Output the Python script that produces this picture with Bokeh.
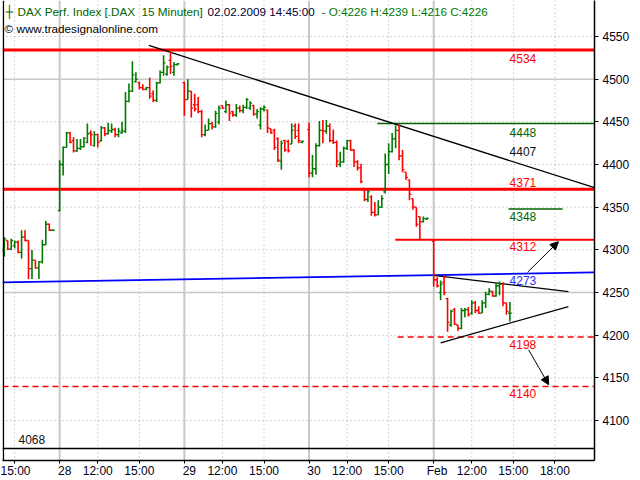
from bokeh.plotting import figure
from bokeh.models import Range1d, FixedTicker, Span, Label, Arrow, NormalHead, ColumnDataSource
from bokeh.embed import file_html
from bokeh.resources import INLINE

# ---------------- data ----------------
# 15-minute bars, 36 slots per session (09:15 ... 18:00)
slots_per_day = 36
day_first_slot = [19, 0, 0, 0, 0]          # Jan 27 (partial), Jan 28, Jan 29, Jan 30, Feb 2

jan27_open  = [4310, 4300, 4311, 4301, 4305, 4309, 4297, 4315, 4311, 4278, 4288, 4279, 4286, 4306, 4330, 4323]
jan27_high  = [4311, 4315, 4311, 4313, 4311, 4311, 4323, 4323, 4311, 4300, 4288, 4287, 4312, 4334, 4331, 4324]
jan27_low   = [4297, 4292, 4300, 4300, 4302, 4296, 4290, 4310, 4266, 4266, 4278, 4266, 4284, 4306, 4322, 4322]
jan27_close = [4299, 4313, 4301, 4311, 4309, 4297, 4315, 4311, 4278, 4288, 4279, 4286, 4306, 4330, 4323, 4323]

jan28_open  = [4346, 4400, 4420, 4437, 4428, 4416, 4419, 4421, 4426, 4437, 4422, 4435, 4428, 4443, 4436, 4439, 4441, 4435,
               4437, 4439, 4474, 4486, 4497, 4496, 4490, 4488, 4490, 4483, 4475, 4496, 4508, 4506, 4522, 4508, 4517]
jan28_high  = [4405, 4421, 4438, 4438, 4432, 4430, 4430, 4432, 4448, 4440, 4439, 4436, 4445, 4444, 4449, 4448, 4443, 4443,
               4450, 4485, 4495, 4521, 4508, 4497, 4494, 4491, 4502, 4487, 4497, 4510, 4528, 4516, 4532, 4520, 4519]
jan28_low   = [4345, 4387, 4420, 4425, 4414, 4415, 4417, 4420, 4425, 4422, 4421, 4420, 4427, 4433, 4435, 4437, 4432, 4432,
               4436, 4437, 4473, 4485, 4496, 4488, 4487, 4487, 4477, 4473, 4473, 4495, 4504, 4504, 4506, 4504, 4516]
jan28_close = [4400, 4420, 4437, 4426, 4416, 4419, 4421, 4431, 4436, 4435, 4435, 4426, 4443, 4436, 4440, 4441, 4435, 4439,
               4439, 4474, 4486, 4505, 4500, 4490, 4488, 4490, 4480, 4475, 4495, 4508, 4519, 4514, 4515, 4517, 4518]

jan29_open  = [4496, 4476, 4486, 4470, 4470, 4462, 4435, 4440, 4448, 4444, 4450, 4469, 4462, 4470, 4462, 4458, 4466, 4463,
               4467, 4466, 4469, 4459, 4446, 4465, 4464, 4442, 4440, 4430, 4404, 4428, 4427, 4424, 4445, 4440, 4426]
jan29_high  = [4497, 4500, 4486, 4483, 4479, 4464, 4447, 4454, 4450, 4463, 4469, 4469, 4475, 4471, 4463, 4471, 4469, 4470,
               4478, 4474, 4470, 4465, 4467, 4469, 4464, 4442, 4442, 4432, 4428, 4429, 4429, 4448, 4448, 4448, 4428]
jan29_low   = [4457, 4476, 4455, 4462, 4460, 4432, 4433, 4440, 4441, 4443, 4447, 4465, 4460, 4451, 4456, 4456, 4461, 4460,
               4465, 4464, 4457, 4454, 4441, 4462, 4437, 4436, 4417, 4403, 4394, 4415, 4414, 4424, 4430, 4425, 4425]
jan29_close = [4476, 4486, 4466, 4465, 4462, 4435, 4440, 4448, 4444, 4460, 4466, 4466, 4470, 4460, 4458, 4466, 4463, 4467,
               4476, 4472, 4459, 4462, 4465, 4467, 4443, 4437, 4420, 4405, 4425, 4417, 4416, 4440, 4433, 4428, 4427]

jan30_open  = [4441, 4390, 4395, 4422, 4440, 4439, 4445, 4428, 4426, 4400, 4403, 4419, 4428, 4417, 4403, 4396, 4372, 4359,
               4362, 4344, 4341, 4350, 4368, 4400, 4415, 4430, 4440, 4410, 4391, 4382, 4360, 4350, 4339, 4333, 4336]
jan30_high  = [4449, 4411, 4425, 4451, 4452, 4452, 4448, 4441, 4428, 4415, 4421, 4429, 4429, 4418, 4405, 4401, 4372, 4370,
               4364, 4356, 4358, 4364, 4413, 4425, 4437, 4446, 4447, 4417, 4391, 4382, 4360, 4350, 4339, 4339, 4338]
jan30_low   = [4385, 4385, 4388, 4421, 4425, 4436, 4426, 4424, 4397, 4397, 4402, 4417, 4416, 4397, 4393, 4378, 4357, 4356,
               4340, 4339, 4341, 4349, 4366, 4389, 4414, 4419, 4405, 4391, 4382, 4358, 4347, 4327, 4312, 4332, 4335]
jan30_close = [4390, 4395, 4422, 4440, 4439, 4445, 4428, 4426, 4404, 4403, 4419, 4428, 4417, 4403, 4396, 4380, 4359, 4368,
               4344, 4341, 4350, 4360, 4400, 4415, 4430, 4440, 4410, 4394, 4385, 4365, 4350, 4330, 4333, 4337, 4337]

feb02_open  = [4310, 4265, 4250, 4262, 4243, 4212, 4230, 4212, 4208, 4229, 4230, 4226, 4238, 4229, 4226, 4238, 4248, 4251,
               4246, 4258, 4260, 4238, 4226]
feb02_high  = [4312, 4268, 4264, 4270, 4244, 4230, 4232, 4212, 4232, 4232, 4233, 4241, 4240, 4234, 4241, 4251, 4255, 4252,
               4261, 4263, 4262, 4238, 4239]
feb02_low   = [4257, 4256, 4241, 4247, 4204, 4210, 4212, 4205, 4207, 4221, 4222, 4224, 4226, 4225, 4226, 4232, 4247, 4245,
               4245, 4247, 4234, 4224, 4216]
feb02_close = [4265, 4258, 4260, 4250, 4215, 4228, 4213, 4208, 4229, 4230, 4224, 4238, 4229, 4226, 4238, 4248, 4252, 4246,
               4258, 4260, 4238, 4228, 4226]

tick_times  = ["15:00", "day", "12:00", "15:00", "day", "12:00", "15:00", "day", "12:00", "15:00", "day", "12:00", "15:00", "18:00"]
tick_days   = [0, 1, 1, 1, 2, 2, 2, 3, 3, 3, 4, 4, 4, 4]
day_labels  = ["27", "28", "29", "30", "Feb"]
price_ticks = [4100, 4150, 4200, 4250, 4300, 4350, 4400, 4450, 4500, 4550]

# drawn levels (price) and their captions
level_resist_1 = 4534
level_resist_2 = 4371
level_green_hi = 4448
level_trend_at = 4407
level_green_lo = 4348
level_support  = 4312
level_blue     = 4273
level_target_1 = 4198
level_target_2 = 4140
level_low_mark = 4068
# trend lines: (bar index, price) pairs
trend_down   = [(61.74, 4539.5), (190.43, 4372.8)]
blue_line    = [(19.49, 4261.9), (190.43, 4273.6)]
tri_upper    = [(144.0, 4270.1), (182.9, 4251.1)]
tri_lower    = [(146.0, 4191.2), (182.9, 4233.6)]
arrow_up     = [(171.1, 4273.8), (180.0, 4309.6)]
arrow_down   = [(171.4, 4183.0), (177.2, 4142.1)]

# ---------------- build ----------------
days = [
    (jan27_open, jan27_high, jan27_low, jan27_close),
    (jan28_open, jan28_high, jan28_low, jan28_close),
    (jan29_open, jan29_high, jan29_low, jan29_close),
    (jan30_open, jan30_high, jan30_low, jan30_close),
    (feb02_open, feb02_high, feb02_low, feb02_close),
]
xs, o, h, l, c = [], [], [], [], []
for d, (do, dh, dl, dc) in enumerate(days):
    for i in range(len(do)):
        xs.append(d * slots_per_day + day_first_slot[d] + i)
        o.append(do[i]); h.append(dh[i]); l.append(dl[i]); c.append(dc[i])

GREEN = "#007a00"
RED = "#ff0000"
colors = [GREEN if cc >= oo else RED for oo, cc in zip(o, c)]
tick_len = 0.55
src = ColumnDataSource(dict(
    x=xs, o=o, h=h, l=l, c=c, color=colors,
    xl=[x - tick_len for x in xs], xr=[x + tick_len for x in xs],
))

X0, X1 = 19.49, 190.43
Y0, Y1 = 4053.3, 4592.1

p = figure(width=640, height=480, x_range=Range1d(X0, X1), y_range=Range1d(Y0, Y1),
           output_backend="svg", toolbar_location=None, y_axis_location="right",
           min_border_left=2, min_border_right=46, min_border_top=0, min_border_bottom=19,
           background_fill_color="white", border_fill_color="white")
p.title.visible = False
p.outline_line_color = None
p.xgrid.visible = False
p.ygrid.visible = False

FONT = "Liberation Sans"

def slot_of(t):
    hh, mm = t.split(":")
    return (int(hh) * 60 + int(mm) - (9 * 60 + 15)) // 15

tick_pos, tick_lab = [], []
for t, d in zip(tick_times, tick_days):
    if t == "day":
        tick_pos.append(d * slots_per_day)
        pad = "\u00a0\u00a0" if day_labels[d] == "Feb" else "\u00a0\u00a0\u00a0"
        tick_lab.append(pad + day_labels[d])
    else:
        tick_pos.append(d * slots_per_day + slot_of(t))
        tick_lab.append(t)

# grid lines
for v in price_ticks:
    solid = v % 250 == 0
    p.add_layout(Span(location=v, dimension="width", line_color="#c8c8c8" if solid else "#a8a8a8",
                      line_width=1.5 if solid else 1, line_dash="solid" if solid else "1 3", level="underlay"))
for pos, t in zip(tick_pos, tick_times):
    solid = t == "day"
    p.add_layout(Span(location=pos, dimension="height", line_color="#c8c8c8" if solid else "#a8a8a8",
                      line_width=2 if solid else 1, line_dash="solid" if solid else "1 3", level="underlay"))

# frame lines
p.add_layout(Span(location=X0 + 0.25, dimension="height", line_color="black", line_width=1.5))
p.add_layout(Span(location=level_low_mark - 0.7, dimension="width", line_color="black", line_width=1.5))

# horizontal levels
p.segment(x0=[X0], y0=[level_resist_1], x1=[X1], y1=[level_resist_1], line_color=RED, line_width=3)
p.segment(x0=[X0], y0=[level_resist_2], x1=[X1], y1=[level_resist_2], line_color=RED, line_width=3)
p.segment(x0=[127.7], y0=[level_green_hi], x1=[X1], y1=[level_green_hi], line_color="#006400", line_width=1.5)
p.segment(x0=[165.6], y0=[level_green_lo], x1=[181.2], y1=[level_green_lo], line_color="#006400", line_width=1.5)
p.segment(x0=[132.9], y0=[level_support], x1=[X1], y1=[level_support], line_color=RED, line_width=2)
p.segment(x0=[133.6], y0=[level_target_1], x1=[X1], y1=[level_target_1], line_color=RED, line_width=1.5, line_dash="6 4")
p.segment(x0=[X0], y0=[level_target_2], x1=[X1], y1=[level_target_2], line_color=RED, line_width=1.5, line_dash="6 4")

# trend lines
p.line([blue_line[0][0], blue_line[1][0]], [blue_line[0][1], blue_line[1][1]], line_color="#0000ff", line_width=1.6)
for tl in (trend_down, tri_upper, tri_lower):
    p.line([tl[0][0], tl[1][0]], [tl[0][1], tl[1][1]], line_color="black", line_width=1.3)

# OHLC bars
p.segment(x0="x", y0="l", x1="x", y1="h", line_color="color", line_width=1.6, source=src)
p.segment(x0="xl", y0="o", x1="x", y1="o", line_color="color", line_width=1.3, source=src)
p.segment(x0="x", y0="c", x1="xr", y1="c", line_color="color", line_width=1.3, source=src)

# arrows
for a in (arrow_up, arrow_down):
    p.add_layout(Arrow(end=NormalHead(size=8, fill_color="black", line_color="black", line_width=1),
                       x_start=a[0][0], y_start=a[0][1], x_end=a[1][0], y_end=a[1][1],
                       line_color="black", line_width=1))

# captions of levels
def cap(val, txt, color):
    p.add_layout(Label(x=165.9, y=val, text=txt, text_color=color, text_font=FONT,
                       text_font_size="12px", text_align="left", text_baseline="middle"))

cap(4524.3, str(level_resist_1), RED)
cap(4437.8, str(level_green_hi), "#006400")
cap(4415.6, str(level_trend_at), "#111111")
cap(4379.4, str(level_resist_2), RED)
cap(4339.6, str(level_green_lo), "#006400")
cap(4303.4, str(level_support), RED)
cap(4263.7, str(level_blue), "#2b2bff")
cap(4188.8, str(level_target_1), RED)
cap(4131.6, str(level_target_2), RED)
p.add_layout(Label(x=24.1, y=4077.8, text=str(level_low_mark), text_color="#111111", text_font=FONT,
                   text_font_size="12px", text_align="left", text_baseline="middle"))

# header
HF = "11.7px"
p.add_layout(Label(x=20.4, y=4579.2, text="\u253c", text_color="#006400", text_font="DejaVu Sans",
                   text_font_size="12px", text_align="left", text_baseline="middle"))
p.add_layout(Label(x=23.82, y=4579.2, text="DAX Perf. Index [.DAX \u00a015 Minuten]", text_color="#006400",
                   text_font=FONT, text_font_size=HF, text_align="left", text_baseline="middle"))
p.add_layout(Label(x=78.69, y=4579.2, text="02.02.2009 14:45:00", text_color="#000033",
                   text_font=FONT, text_font_size=HF, text_align="left", text_baseline="middle"))
p.add_layout(Label(x=111.6, y=4579.2, text="- O:4226 H:4239 L:4216 C:4226", text_color="#007a00",
                   text_font=FONT, text_font_size=HF, text_align="left", text_baseline="middle"))
p.add_layout(Label(x=20.1, y=4559.4, text="\u00a9 www.tradesignalonline.com", text_color="#000000",
                   text_font=FONT, text_font_size=HF, text_align="left", text_baseline="middle"))
p.add_layout(Label(x=192.5, y=4580.0, text="\u20ac", text_color="#000000",
                   text_font=FONT, text_font_size="12px", text_align="left", text_baseline="middle"))

# axes
xa = p.xaxis[0]
xa.ticker = FixedTicker(ticks=tick_pos)
xa.major_label_overrides = {pos: lab for pos, lab in zip(tick_pos, tick_lab)}
xa.major_label_text_align = "left"
xa.major_label_text_font = FONT
xa.major_label_text_font_size = "12px"
xa.major_label_text_color = "#000022"
xa.major_label_standoff = 0
xa.major_tick_out = 3
xa.major_tick_in = 0
xa.minor_tick_line_color = None
xa.axis_line_color = "black"
xa.axis_line_width = 1.5
xa.major_tick_line_color = "black"

ya = p.yaxis[0]
ya.ticker = FixedTicker(ticks=price_ticks)
ya.major_label_text_font = FONT
ya.major_label_text_font_size = "12px"
ya.major_label_text_color = "#000022"
ya.major_label_standoff = 4
ya.major_tick_out = 4
ya.major_tick_in = 0
ya.minor_tick_line_color = None
ya.axis_line_color = "black"
ya.axis_line_width = 1.5

open("out.html", "w").write(file_html(p, INLINE))
